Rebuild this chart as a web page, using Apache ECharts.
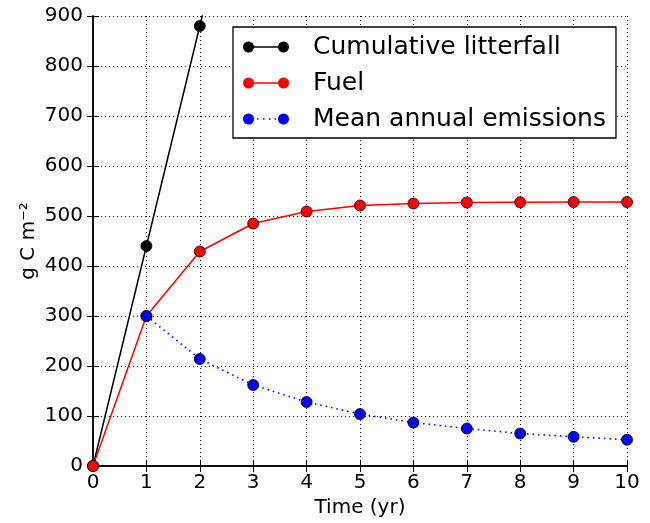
<!DOCTYPE html>
<html>
<head>
<meta charset="utf-8">
<script src="https://cdn.jsdelivr.net/npm/echarts@6/dist/echarts.min.js"></script>
<style>html,body{margin:0;padding:0;background:#fff;}#c{width:650px;height:523px;}</style>
</head>
<body>
<div id="c"></div>
<script>
var litterYears = [0, 1, 2, 3];
var litterfall = [0, 440, 880, 1320];
var fuelYears = [0, 1, 2, 3, 4, 5, 6, 7, 8, 9, 10];
var fuel = [0, 300, 429, 485, 509, 521, 525, 527, 527.5, 528, 528];
var emisYears = [1, 2, 3, 4, 5, 6, 7, 8, 9, 10];
var emissions = [300, 214, 162, 128, 104, 87, 75, 65, 58.5, 52.5];
var seriesNames = ['Cumulative litterfall', 'Fuel', 'Mean annual emissions'];

function pairs(xs, ys) { return xs.map(function (x, i) { return [x, ys[i]]; }); }

var FONT = 'DejaVu Sans';
var circles = 'M0,5.5A5.5,5.5 0 1,1 11,5.5A5.5,5.5 0 1,1 0,5.5Z M35,5.5A5.5,5.5 0 1,1 46,5.5A5.5,5.5 0 1,1 35,5.5Z ';
var iconSolid = 'path://' + circles + 'M10.8,4.8L35.2,4.8L35.2,6.2L10.8,6.2Z';
var iconDotted = 'path://' + circles + 'M14,4.8L15.5,4.8L15.5,6.3L14,6.3Z M20,4.8L21.5,4.8L21.5,6.3L20,6.3Z M26,4.8L27.5,4.8L27.5,6.3L26,6.3Z M31.5,4.8L33,4.8L33,6.3L31.5,6.3Z';

var chart = echarts.init(document.getElementById('c'), null, {renderer: 'canvas'});
var axisBase = {
  min: 0,
  axisLine: {show: true, lineStyle: {color: '#000', width: 1.5}},
  axisTick: {show: true, inside: true, length: 6, lineStyle: {color: '#000', width: 1}}
};
chart.setOption({
  animation: false,
  backgroundColor: '#fff',
  textStyle: {fontFamily: FONT},
  grid: {left: 93, right: 23, top: 16, bottom: 56, containLabel: false},
  legend: {
    orient: 'vertical', left: 233, top: 27,
    backgroundColor: '#fff', borderColor: '#000', borderWidth: 1.3, borderRadius: 0,
    padding: [7, 10, 6, 10], itemWidth: 46, itemHeight: 11, itemGap: 10,
    itemStyle: {borderWidth: 0},
    textStyle: {fontFamily: FONT, fontSize: 25, color: '#000', lineHeight: 26, padding: [0, 0, 0, 19]},
    data: [
      {name: seriesNames[0], icon: iconSolid},
      {name: seriesNames[1], icon: iconSolid},
      {name: seriesNames[2], icon: iconDotted}
    ]
  },
  xAxis: [
    Object.assign({}, axisBase, {
      type: 'value', max: 10, interval: 1, position: 'bottom',
      name: 'Time (yr)', nameLocation: 'middle', nameGap: 32, nameMoveOverlap: false,
      nameTextStyle: {fontFamily: FONT, fontSize: 20, color: '#000'},
      axisLabel: {fontFamily: FONT, fontSize: 20, color: '#000', margin: 7},
      splitLine: {show: true, lineStyle: {color: '#000', width: 1, type: [1, 3]}}
    }),
    Object.assign({}, axisBase, {
      type: 'value', max: 10, interval: 1, position: 'top',
      axisLabel: {show: false}, splitLine: {show: false}
    })
  ],
  yAxis: [
    Object.assign({}, axisBase, {
      type: 'value', max: 900, interval: 100, position: 'left',
      name: 'g C m\u207B\u00B2', nameLocation: 'middle', nameGap: 54, nameMoveOverlap: false,
      nameTextStyle: {fontFamily: FONT, fontSize: 20, color: '#000'},
      axisLabel: {fontFamily: FONT, fontSize: 20, color: '#000', margin: 10},
      splitLine: {show: true, lineStyle: {color: '#000', width: 1, type: [1, 3]}}
    }),
    Object.assign({}, axisBase, {
      type: 'value', max: 900, interval: 100, position: 'right',
      axisLabel: {show: false}, splitLine: {show: false}
    })
  ],
  series: [
    {
      name: seriesNames[0], type: 'line', data: pairs(litterYears, litterfall),
      clip: true, symbol: 'circle', symbolSize: 11,
      lineStyle: {color: '#000', width: 1.5},
      itemStyle: {color: '#000', borderColor: '#000', borderWidth: 0.8}
    },
    {
      name: seriesNames[1], type: 'line', data: pairs(fuelYears, fuel),
      clip: true, symbol: 'circle', symbolSize: 11,
      lineStyle: {color: '#ff0000', width: 1.5},
      itemStyle: {color: '#ff0000', borderColor: '#000', borderWidth: 0.8}
    },
    {
      name: seriesNames[2], type: 'line', data: pairs(emisYears, emissions),
      clip: true, symbol: 'circle', symbolSize: 11,
      lineStyle: {color: '#0000ff', width: 1.6, type: [1.5, 4]},
      itemStyle: {color: '#0000ff', borderColor: '#000', borderWidth: 0.8}
    }
  ]
});
</script>
</body>
</html>
